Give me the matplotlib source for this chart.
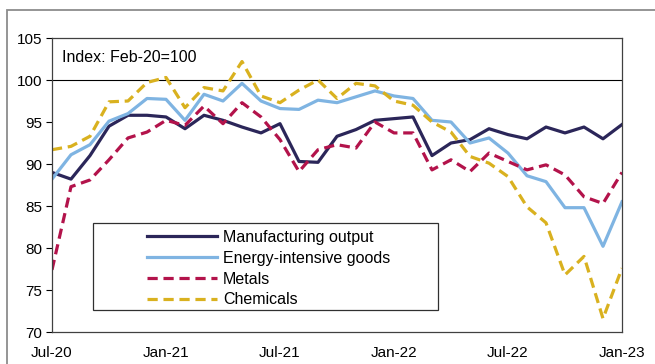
import matplotlib
matplotlib.use("Agg")
import matplotlib.pyplot as plt
from matplotlib.patches import Rectangle
import numpy as np

plt.rcParams["font.family"] = ["Liberation Sans", "DejaVu Sans"]

# monthly, Jul-20 .. Jan-23
months = ["Jul-20", "Aug-20", "Sep-20", "Oct-20", "Nov-20", "Dec-20",
          "Jan-21", "Feb-21", "Mar-21", "Apr-21", "May-21", "Jun-21",
          "Jul-21", "Aug-21", "Sep-21", "Oct-21", "Nov-21", "Dec-21",
          "Jan-22", "Feb-22", "Mar-22", "Apr-22", "May-22", "Jun-22",
          "Jul-22", "Aug-22", "Sep-22", "Oct-22", "Nov-22", "Dec-22",
          "Jan-23"]

manufacturing = [89.0, 88.2, 91.0, 94.5, 95.8, 95.8, 95.6, 94.2, 95.8, 95.2,
                 94.4, 93.7, 94.8, 90.3, 90.2, 93.3, 94.1, 95.2, 95.4, 95.6,
                 91.0, 92.5, 92.9, 94.2, 93.5, 93.0, 94.4, 93.7, 94.4, 93.0,
                 94.7]
energy_intensive = [88.2, 91.1, 92.3, 95.1, 96.0, 97.8, 97.7, 95.2, 98.3, 97.5,
                    99.6, 97.5, 96.6, 96.5, 97.6, 97.3, 98.0, 98.7, 98.1, 97.8,
                    95.2, 95.0, 92.5, 93.1, 91.3, 88.6, 87.9, 84.8, 84.8, 80.2,
                    85.5]
metals = [77.4, 87.3, 88.1, 90.5, 93.1, 93.8, 95.2, 94.6, 96.9, 94.8,
          97.3, 95.6, 92.9, 89.1, 91.7, 92.3, 91.9, 95.0, 93.7, 93.7,
          89.3, 90.5, 89.1, 91.3, 90.3, 89.3, 89.9, 88.7, 86.1, 85.3,
          89.0]
chemicals = [91.7, 92.1, 93.3, 97.4, 97.5, 99.7, 100.3, 96.7, 99.1, 98.7,
             102.2, 98.1, 97.3, 98.8, 100.0, 97.8, 99.6, 99.3, 97.5, 97.0,
             95.0, 93.8, 90.9, 90.1, 88.5, 84.9, 83.0, 76.8, 79.0, 71.6,
             77.6]

tick_labels = ["Jul-20", "Jan-21", "Jul-21", "Jan-22", "Jul-22", "Jan-23"]

NAVY = "#2b2659"
LBLUE = "#7fb4e2"
CRIMSON = "#b3134b"
GOLD = "#d9b11f"

x = np.arange(len(months))

fig = plt.figure(figsize=(6.55, 3.64), dpi=100)
# outer frame of the original figure (cropped)
fig.patches.append(Rectangle((7 / 655, -0.1), 1.1, 1 - 10 / 364 + 0.1,
                             transform=fig.transFigure, fill=False,
                             edgecolor="#8c8c8c", linewidth=1.3))
ax = fig.add_axes([52 / 655, 1 - 332 / 364, 570 / 655, 294 / 364])

ax.plot(x, manufacturing, color=NAVY, lw=2.3, label="Manufacturing output")
ax.plot(x, energy_intensive, color=LBLUE, lw=2.3, label="Energy-intensive goods")
ax.plot(x, metals, color=CRIMSON, lw=2.3, dashes=(3.2, 1.8), label="Metals")
ax.plot(x, chemicals, color=GOLD, lw=2.3, dashes=(3.2, 1.8), label="Chemicals")
ax.axhline(100, color="black", lw=0.8, zorder=0)

ax.set_xlim(0, len(months) - 1)
ax.set_ylim(70, 105)
ax.set_yticks(range(70, 106, 5))
ax.set_xticks([months.index(m) for m in tick_labels])
ax.set_xticklabels(tick_labels)
ax.tick_params(axis="y", direction="out", length=4, width=0.8, labelsize=11, pad=3)
ax.tick_params(axis="x", length=0, labelsize=11, pad=10)
for s in ax.spines.values():
    s.set_color("#404040")
    s.set_linewidth(0.9)

ax.text(0.018, 0.935, "Index: Feb-20=100", transform=ax.transAxes,
        fontsize=11.5, va="center", ha="left")

# legend box drawn separately, entries indented inside it
ax.add_patch(Rectangle((41 / 570, 22 / 294), 345 / 570, 87 / 294,
                       transform=ax.transAxes, fill=False, edgecolor="#303030",
                       linewidth=0.9, zorder=4))
leg = ax.legend(loc="upper left", bbox_to_anchor=(95 / 570, 102 / 294),
                fontsize=11.5, frameon=False, handlelength=4.4,
                handletextpad=0.35, borderpad=0, labelspacing=0.36,
                borderaxespad=0)

fig.savefig("out.png", dpi=100)
